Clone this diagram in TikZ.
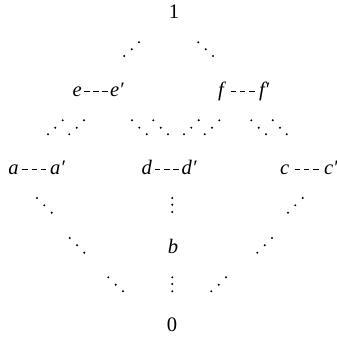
\documentclass[tikz,border=0pt]{standalone}
\usepackage{fontspec}
\setmainfont{Liberation Serif}
\usetikzlibrary{calc}
\begin{document}
\begin{tikzpicture}[x=0.5pt,y=-0.5pt,
  lbl/.style={inner sep=0pt, outer sep=0pt, font=\fontsize{10.3}{12}\selectfont\itshape, anchor=base west},
  num/.style={inner sep=0pt, outer sep=0pt, font=\fontsize{10.3}{12}\selectfont, anchor=base},
  dashlink/.style={line width=0.45pt, dash pattern=on 2.8pt off 1.8pt},
  dotmark/.style={fill=black}]
\useasboundingbox (0,0) rectangle (337,337);
% top, middle and bottom elements
\node[num] (one) at (174,18.3) {1};
\node[num] (zero) at (172,331) {0};
\node[lbl, anchor=base] (b) at (173,253) {b};
% pairs joined by dashed links
\foreach \n/\l/\x/\xp/\y/\s in {e/e/72.7/110/96.7/0, f/f/218/259/96.7/0.6, a/a/8.3/50/174/0, d/d/141.7/181.7/174/0, c/c/280/324/174/0}{
  \node[lbl] (\n) at (\x,\y) {\l};
  \node[lbl] (\n p) at (\xp,\y) {\l′};
  \coordinate (\n m) at ($(\n.base east)!0.5!(\n p.base west)$);
  \draw[dashlink] ([xshift=-6pt+\s pt,yshift=2.5pt]\n m) -- ([xshift=6pt+\s pt,yshift=2.5pt]\n m);
}
% dots
\foreach \x/\y in {
  124.3/56, 131.7/49.3, 139/42.3, 198.3/42.3, 205.7/49.3, 213/56,
  48/134.3, 55.3/127.7, 62.7/120.3, 69.3/134.3, 76.7/127.7, 84/120.3,
  132/120.3, 139.3/127.7, 146.7/134.3, 153.3/120.3, 160.7/127.7, 168/134.3,
  184/134.3, 191.3/127.7, 198.7/120.3, 204.7/134.3, 212/127.7, 219.3/120.3,
  251.3/120.3, 258.7/127.7, 266/134.3, 272.7/120.3, 280/127.7, 286.7/134.3,
  37/198, 44.3/205.3, 51.7/212.7, 172.3/198, 172.3/204.7, 172.3/212,
  288/212.7, 295.3/205.3, 302.7/198,
  69.7/238, 77/245.3, 84.3/252.7, 257.3/252.7, 264.7/245.3, 272/238,
  108.3/277.3, 115.7/284.7, 123/291.3, 172.3/277.3, 172.3/284, 172.3/291.3,
  211.3/291.3, 218.7/284.7, 226/277.3}{
  \fill[dotmark] (\x,\y) circle[radius=0.55pt];
}
\end{tikzpicture}
\end{document}
